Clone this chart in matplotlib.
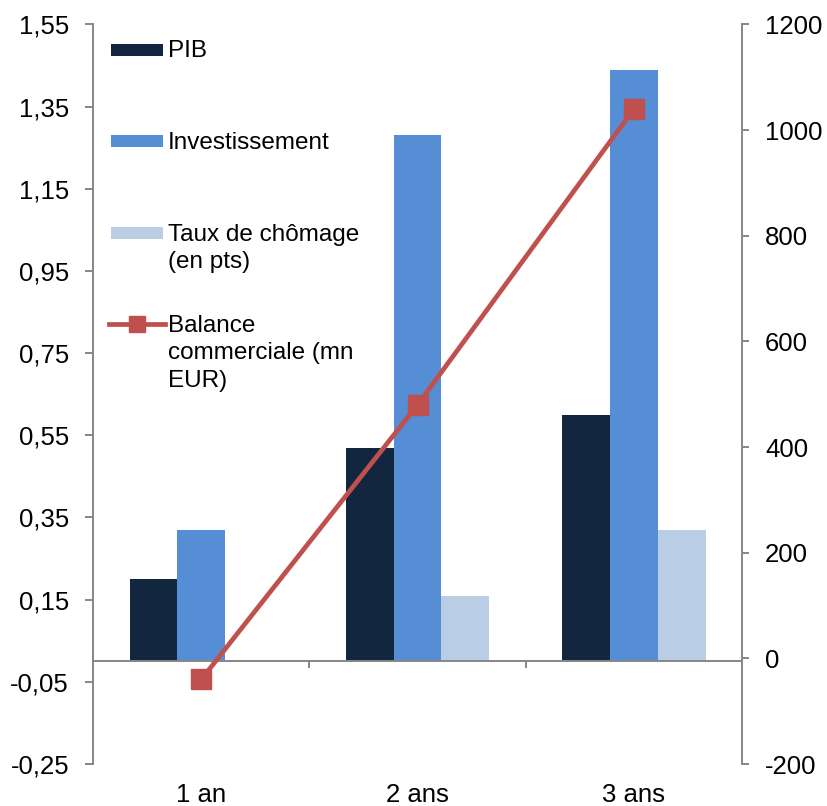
import numpy as np
import matplotlib
matplotlib.use('Agg')
import matplotlib.pyplot as plt
from matplotlib.patches import Rectangle

plt.rcParams['font.family'] = ['Liberation Sans', 'DejaVu Sans']

categories = ['1 an', '2 ans', '3 ans']
pib = [0.20, 0.52, 0.60]
investissement = [0.32, 1.28, 1.44]
chomage = [0.0, 0.16, 0.32]
balance = [-40, 480, 1040]

left_ticks = [-0.25, -0.05, 0.15, 0.35, 0.55, 0.75, 0.95, 1.15, 1.35, 1.55]
right_ticks = [-200, 0, 200, 400, 600, 800, 1000, 1200]

bar_labels = ['PIB', 'Investissement', 'Taux de chômage\n(en pts)']
line_label = 'Balance\ncommerciale (mn\nEUR)'

c_pib = '#12263f'
c_inv = '#558ed5'
c_cho = '#b9cde5'
c_bal = '#c0504d'
grey = '#868686'

fig = plt.figure(figsize=(8.27, 8.06), dpi=100)
ax = fig.add_axes([0.1125, 0.0521, 0.7849, 0.9177])
ax2 = ax.twinx()

x = np.arange(len(categories))
w = 0.2205
for off, vals, col in zip([-w, 0, w], [pib, investissement, chomage],
                          [c_pib, c_inv, c_cho]):
    ax.bar(x + off, vals, width=w, color=col, linewidth=0, zorder=2)

ax.set_xlim(-0.5, len(categories) - 0.5)
ax.set_ylim(left_ticks[0], left_ticks[-1])
ax.set_yticks(left_ticks)
ax.set_yticklabels([f'{v:.2f}'.replace('.', ',') for v in left_ticks])

# horizontal axis sits on zero, category names stay at the bottom
ax.spines['bottom'].set_position(('data', 0))
ax.spines['bottom'].set_zorder(3)
ax.set_xticks(x[:-1] + 0.5)
ax.set_xticklabels([])
ax.tick_params(axis='x', direction='out', length=5, width=1.4, color=grey)
for xi, name in zip(x, categories):
    ax.annotate(name, xy=(xi, 0), xycoords=ax.get_xaxis_transform(),
                xytext=(0, -27), textcoords='offset points',
                ha='center', va='baseline', fontsize=18.5)

ax.tick_params(axis='y', direction='out', length=5.8, width=1.4, color=grey,
               pad=11.5, labelsize=18.5)
for s in ['top', 'right']:
    ax.spines[s].set_visible(False)
for s in ['left', 'bottom']:
    ax.spines[s].set_color(grey)
    ax.spines[s].set_linewidth(1.4)

ax2.plot(x, balance, color=c_bal, lw=3.4, marker='s', markersize=14.5,
         zorder=4)
ax2.set_ylim(right_ticks[0], right_ticks[-1])
ax2.set_yticks(right_ticks)
ax2.set_yticklabels([str(v) for v in right_ticks])
ax2.tick_params(axis='y', direction='out', length=5, width=1.4, color=grey,
                pad=11.5, labelsize=18.5)
for s in ['top', 'left', 'bottom']:
    ax2.spines[s].set_visible(False)
ax2.spines['right'].set_color(grey)
ax2.spines['right'].set_linewidth(1.4)

# legend, laid out by hand in axes fractions (y = baseline of last line)
hx, hw, hh = 0.0277, 0.0802, 0.0162
tx = 0.1156
centres = [0.9659, 0.8429, 0.7185]
baselines = [0.9558, 0.8314, 0.6705]
for yc, yb, col, lab in zip(centres, baselines, [c_pib, c_inv, c_cho],
                            bar_labels):
    ax2.add_patch(Rectangle((hx, yc - hh / 2), hw, hh, color=col,
                            transform=ax2.transAxes, clip_on=False, lw=0))
    ax2.text(tx, yb, lab, transform=ax2.transAxes, fontsize=17.5,
             va='baseline', ha='left', linespacing=1.32)
ly = 0.5948
ax2.plot([0.0246, 0.0673, 0.1109], [ly, ly, ly], transform=ax2.transAxes,
         color=c_bal, lw=3.4, marker='s', markersize=11, markevery=[1],
         clip_on=False)
ax2.text(tx, 0.5101, line_label, transform=ax2.transAxes, fontsize=17.5,
         va='baseline', ha='left', linespacing=1.32)

fig.savefig('out.png', dpi=100)
